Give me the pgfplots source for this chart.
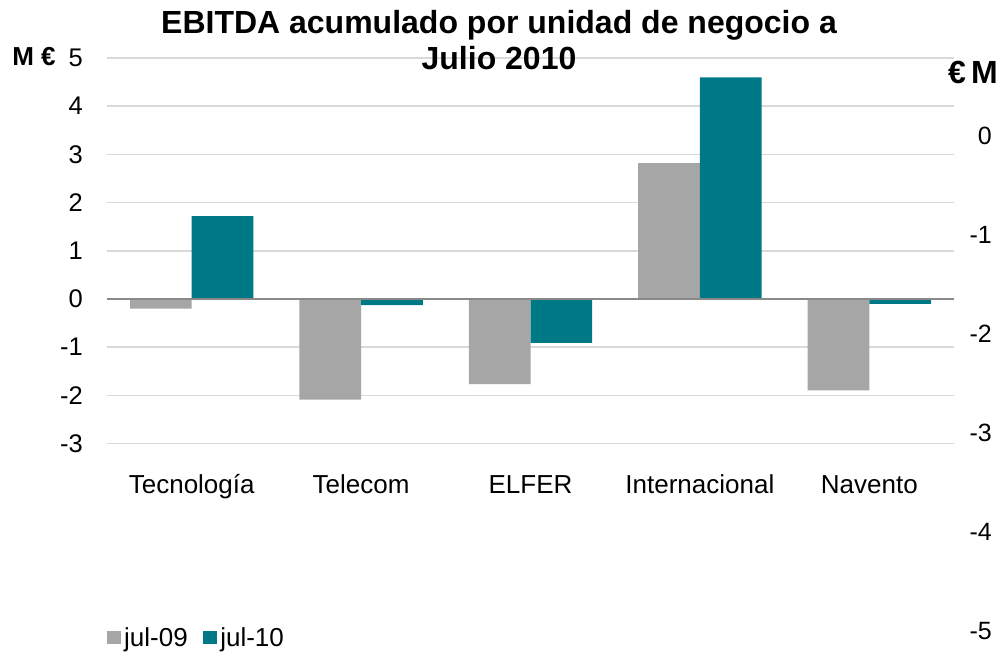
\documentclass[border=0pt]{standalone}
\usepackage{pgfplots}
\pgfplotsset{compat=1.18}
\usepackage{fontspec}
\setmainfont{Liberation Sans}
\definecolor{bargray}{RGB}{166,166,166}
\definecolor{barteal}{RGB}{0,121,135}
\definecolor{gridgray}{RGB}{217,217,217}
\definecolor{zerogray}{RGB}{137,137,137}
\begin{document}
\begin{tikzpicture}[x=1bp,y=1bp]
\useasboundingbox (0bp,0bp) rectangle (999bp,654bp);
\begin{axis}[
  at={(107bp,210.5bp)}, anchor=south west,
  scale only axis, width=847bp, height=385.5bp,
  xmin=-0.5, xmax=4.5, ymin=-3, ymax=5,
  ybar=0pt, bar width=61.7bp,
  xtick={0,1,2,3,4},
  xticklabels={Tecnología,Telecom,ELFER,Internacional,Navento},
  ytick={-3,-2,-1,0,1,2,3,4,5},
  yticklabels={-3,-2,-1,0,1,2,3,4,5},
  axis line style={draw=none},
  major tick length=0pt,
  ymajorgrids, grid style={gridgray, line width=1.5bp},
  xticklabel style={font=\fontsize{26bp}{30bp}\selectfont, anchor=base, inner sep=0pt, yshift=-49.5bp},
  yticklabel style={font=\fontsize{25.5bp}{30bp}\selectfont, anchor=east, inner sep=0pt, xshift=-24bp},
  legend style={at={(0,-0.5045)}, anchor=west, legend columns=2, draw=none, fill=none, inner sep=0pt,
    font=\fontsize{26bp}{30bp}\selectfont,
    nodes={inner sep=3.5bp},
    /tikz/every even column/.append style={column sep=12bp}},
  legend image code/.code={\fill[#1] (0bp,-6.5bp) rectangle (13.5bp,6.5bp);},
  clip=false,
]
\addplot[fill=bargray, draw=none] coordinates {(0,-0.20) (1,-2.09) (2,-1.77) (3,2.82) (4,-1.90)};
\addplot[fill=barteal, draw=none] coordinates {(0,1.72) (1,-0.13) (2,-0.91) (3,4.60) (4,-0.10)};
\legend{jul-09,jul-10}
\draw[zerogray, line width=2bp] (axis cs:-0.5,0) -- (axis cs:4.5,0);
\end{axis}
\begin{axis}[
  at={(991bp,23bp)}, anchor=south west,
  scale only axis, width=1bp, height=495bp,
  xmin=0, xmax=1, ymin=-5, ymax=0,
  axis y line*=right, axis x line=none,
  axis line style={draw=none},
  major tick length=0pt,
  ytick={-5,-4,-3,-2,-1,0},
  yticklabels={-5,-4,-3,-2,-1,0},
  yticklabel style={font=\fontsize{25bp}{30bp}\selectfont, anchor=east, inner sep=0pt},
]
\addplot[draw=none] coordinates {(0,-5) (1,0)};
\end{axis}
\node[font=\bfseries\fontsize{32bp}{36bp}\selectfont, align=center] at (499bp,614bp) {EBITDA acumulado por unidad de negocio a\\Julio 2010};
\node[font=\bfseries\fontsize{26bp}{30bp}\selectfont] at (34bp,597bp) {M €};
\node[font=\bfseries\fontsize{32bp}{36bp}\selectfont] at (973bp,582bp) {€\,M};
\end{tikzpicture}
\end{document}
